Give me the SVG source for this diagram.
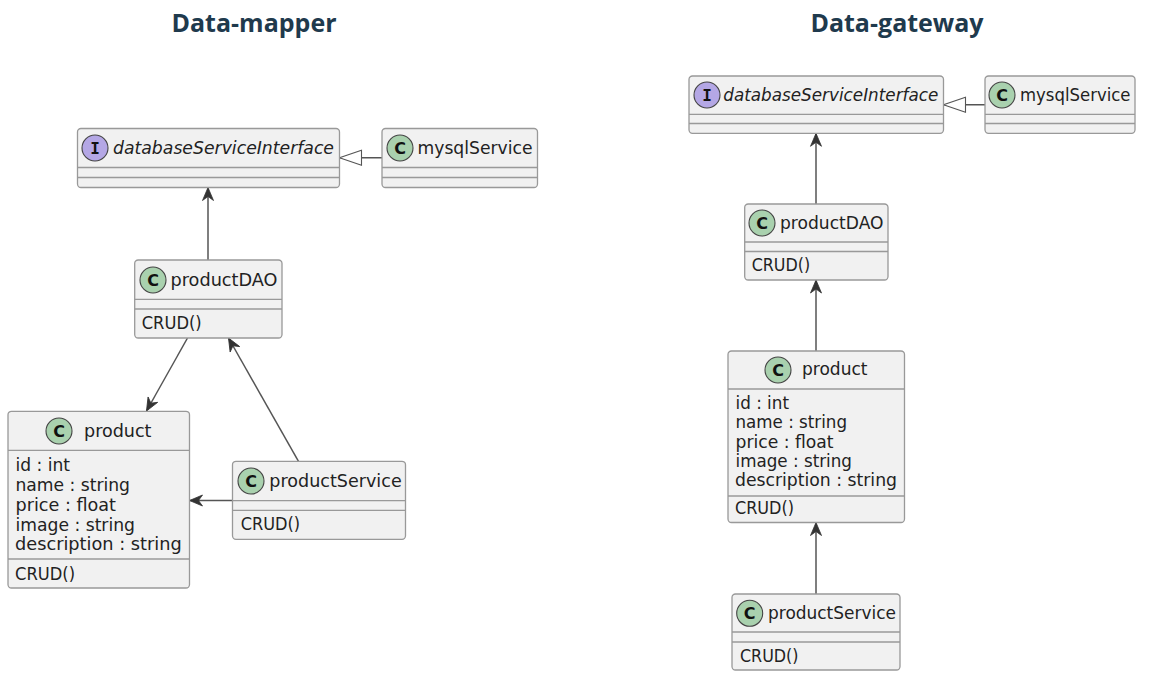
<svg xmlns="http://www.w3.org/2000/svg" width="1150" height="675" viewBox="0 0 1150 675">
<style>
.box{fill:#f1f1f1;stroke:#999;stroke-width:1.3}
.div{stroke:#999;stroke-width:1.3;fill:none}
.t{font-family:"DejaVu Sans",sans-serif;font-size:17px;fill:#222}
.it{font-style:italic}
.title{font-family:"Open Sans",sans-serif;font-weight:700;font-size:25px;fill:#1f3a4d;text-anchor:middle}
.c{fill:#a9d1ae;stroke:#444;stroke-width:1.1}
.i{fill:#b4a7e5;stroke:#444;stroke-width:1.1}
.g{font-family:"DejaVu Sans",sans-serif;font-weight:700;font-size:16px;fill:#111;text-anchor:middle}
.gi{font-family:"DejaVu Sans Mono",monospace;font-weight:700;font-size:16px;fill:#111;text-anchor:middle}
.l{stroke:#555;stroke-width:1.5;fill:none}
</style>
<defs>
<marker id="open" markerUnits="userSpaceOnUse" markerWidth="16" markerHeight="16" refX="14" refY="8" orient="auto">
<path d="M14 8L1 2.500L5 8L1 13.500Z" fill="#333" stroke="#333" stroke-width="0.8"/>
</marker>
<marker id="tri" markerUnits="userSpaceOnUse" markerWidth="26" markerHeight="20" refX="23" refY="10" orient="auto">
<path d="M23 10L1 2.500V17.500Z" fill="#fff" stroke="#555" stroke-width="1.1"/>
</marker>
</defs>
<text class="title" x="254" y="32">Data-mapper</text>
<text class="title" x="897" y="32">Data-gateway</text>
<g id="connectors">
<path class="l" d="M382 157.700H339.500" marker-end="url(#tri)"/>
<path class="l" d="M208 260V187.500" marker-end="url(#open)"/>
<path class="l" d="M187.500 338L146.500 411" marker-end="url(#open)"/>
<path class="l" d="M298.500 461.300L228.500 338" marker-end="url(#open)"/>
<path class="l" d="M232.500 500.500H189.500" marker-end="url(#open)"/>
<path class="l" d="M985 104.700H943.500" marker-end="url(#tri)"/>
<path class="l" d="M816 204V133.300" marker-end="url(#open)"/>
<path class="l" d="M816 351V280" marker-end="url(#open)"/>
<path class="l" d="M816 594V522.500" marker-end="url(#open)"/>
</g>
<g id="m-interface">
<rect class="box" x="77.500" y="128.500" width="262" height="59" rx="3.500"/>
<path class="div" d="M77.500 167.500H339.500M77.500 177.500H339.500"/>
<circle class="i" cx="95" cy="148" r="13"/><text class="gi" x="95" y="153.800">I</text>
<text class="t it" x="113" y="153.500" textLength="221" lengthAdjust="spacingAndGlyphs">databaseServiceInterface</text>
</g>
<g id="m-mysql">
<rect class="box" x="382" y="128.500" width="155.500" height="59" rx="3.500"/>
<path class="div" d="M382 167.500H537.500M382 177.500H537.500"/>
<circle class="c" cx="400" cy="148" r="13"/><text class="g" x="400" y="153.800">C</text>
<text class="t" x="417.500" y="153.500" textLength="115" lengthAdjust="spacingAndGlyphs">mysqlService</text>
</g>
<g id="m-dao">
<rect class="box" x="134.700" y="260" width="147.300" height="78" rx="3.500"/>
<path class="div" d="M134.700 299.300H282M134.700 309H282"/>
<circle class="c" cx="153" cy="280" r="13"/><text class="g" x="153" y="285.800">C</text>
<text class="t" x="170.500" y="285.500" textLength="107" lengthAdjust="spacingAndGlyphs">productDAO</text>
<text class="t" x="141.700" y="329" textLength="60" lengthAdjust="spacingAndGlyphs">CRUD()</text>
</g>
<g id="m-product">
<rect class="box" x="8" y="411.300" width="181.500" height="176.700" rx="3.500"/>
<path class="div" d="M8 450.300H189.500M8 559H189.500"/>
<circle class="c" cx="59" cy="431" r="13"/><text class="g" x="59" y="436.800">C</text>
<text class="t" x="84" y="437" textLength="67.500" lengthAdjust="spacingAndGlyphs">product</text>
<text class="t" x="15.500" y="471" textLength="54.500" lengthAdjust="spacingAndGlyphs">id : int</text>
<text class="t" x="15.500" y="491" textLength="114.500" lengthAdjust="spacingAndGlyphs">name : string</text>
<text class="t" x="15.500" y="511" textLength="100.500" lengthAdjust="spacingAndGlyphs">price : float</text>
<text class="t" x="15.500" y="531" textLength="119.500" lengthAdjust="spacingAndGlyphs">image : string</text>
<text class="t" x="15" y="550" textLength="166.700" lengthAdjust="spacingAndGlyphs">description : string</text>
<text class="t" x="15" y="579.500" textLength="60" lengthAdjust="spacingAndGlyphs">CRUD()</text>
</g>
<g id="m-service">
<rect class="box" x="232.500" y="461.300" width="173" height="78" rx="3.500"/>
<path class="div" d="M232.500 500.700H405.500M232.500 510.300H405.500"/>
<circle class="c" cx="251" cy="481" r="13"/><text class="g" x="251" y="486.800">C</text>
<text class="t" x="269.300" y="487" textLength="132.400" lengthAdjust="spacingAndGlyphs">productService</text>
<text class="t" x="240.700" y="530" textLength="59.500" lengthAdjust="spacingAndGlyphs">CRUD()</text>
</g>
<g id="g-interface">
<rect class="box" x="689" y="76" width="254.500" height="57.300" rx="3.500"/>
<path class="div" d="M689 114.300H943.500M689 123.500H943.500"/>
<circle class="i" cx="707" cy="95" r="13"/><text class="gi" x="707" y="100.800">I</text>
<text class="t it" x="723.300" y="100.500" textLength="215" lengthAdjust="spacingAndGlyphs">databaseServiceInterface</text>
</g>
<g id="g-mysql">
<rect class="box" x="985" y="76" width="150" height="57.300" rx="3.500"/>
<path class="div" d="M985 114.300H1135M985 123.500H1135"/>
<circle class="c" cx="1002" cy="95" r="13"/><text class="g" x="1002" y="100.800">C</text>
<text class="t" x="1020" y="100.500" textLength="110.500" lengthAdjust="spacingAndGlyphs">mysqlService</text>
</g>
<g id="g-dao">
<rect class="box" x="744.700" y="204" width="143.300" height="76" rx="3.500"/>
<path class="div" d="M744.700 242H888M744.700 251.500H888"/>
<circle class="c" cx="762" cy="223" r="13"/><text class="g" x="762" y="228.800">C</text>
<text class="t" x="780" y="228.500" textLength="103.500" lengthAdjust="spacingAndGlyphs">productDAO</text>
<text class="t" x="751.700" y="271" textLength="58.500" lengthAdjust="spacingAndGlyphs">CRUD()</text>
</g>
<g id="g-product">
<rect class="box" x="728" y="351" width="176.500" height="171.500" rx="3.500"/>
<path class="div" d="M728 389H904.500M728 496H904.500"/>
<circle class="c" cx="778" cy="370" r="13"/><text class="g" x="778" y="375.800">C</text>
<text class="t" x="802" y="375.300" textLength="65.500" lengthAdjust="spacingAndGlyphs">product</text>
<text class="t" x="735.500" y="408.500" textLength="53.500" lengthAdjust="spacingAndGlyphs">id : int</text>
<text class="t" x="735.500" y="427.500" textLength="111.500" lengthAdjust="spacingAndGlyphs">name : string</text>
<text class="t" x="735.500" y="447.500" textLength="98" lengthAdjust="spacingAndGlyphs">price : float</text>
<text class="t" x="735.500" y="466.500" textLength="116.500" lengthAdjust="spacingAndGlyphs">image : string</text>
<text class="t" x="735" y="485.500" textLength="162" lengthAdjust="spacingAndGlyphs">description : string</text>
<text class="t" x="735" y="513.500" textLength="59" lengthAdjust="spacingAndGlyphs">CRUD()</text>
</g>
<g id="g-service">
<rect class="box" x="732" y="594" width="168" height="76" rx="3.500"/>
<path class="div" d="M732 632H900M732 642H900"/>
<circle class="c" cx="749.700" cy="613.300" r="13"/><text class="g" x="749.700" y="619">C</text>
<text class="t" x="768" y="619.300" textLength="128" lengthAdjust="spacingAndGlyphs">productService</text>
<text class="t" x="740" y="661.700" textLength="58.500" lengthAdjust="spacingAndGlyphs">CRUD()</text>
</g>
</svg>
